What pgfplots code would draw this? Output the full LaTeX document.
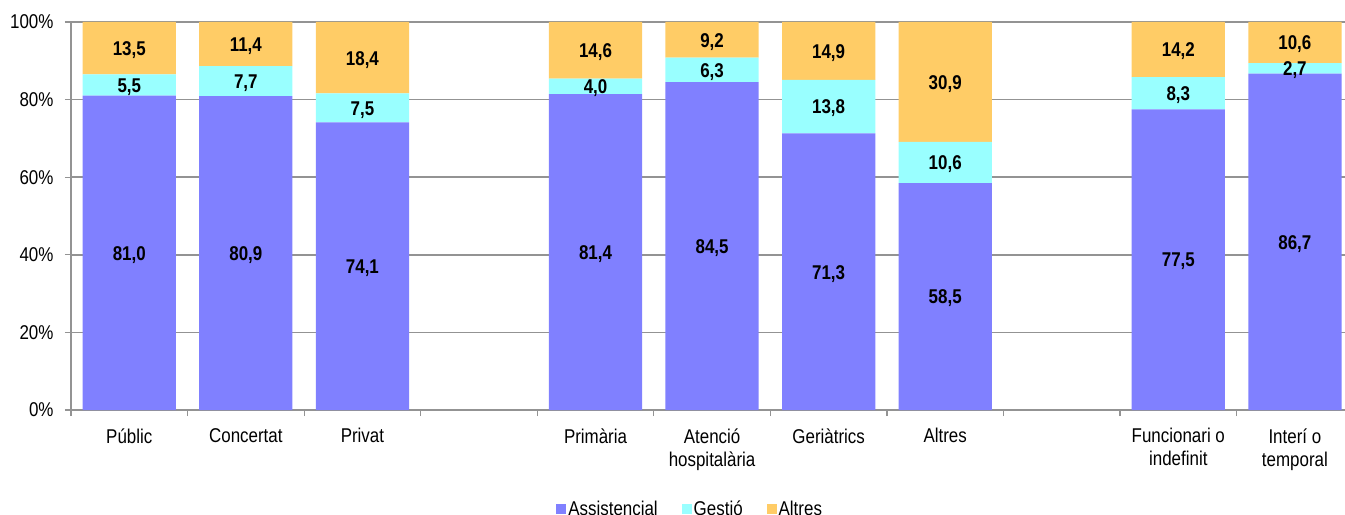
\documentclass[border=0pt]{standalone}
\usepackage{pgfplots}
\pgfplotsset{compat=1.18}
\usepackage{fontspec}
\setmainfont{Liberation Sans}[FakeStretch=0.85]
\definecolor{cAss}{RGB}{128,128,255}
\definecolor{cGes}{RGB}{153,255,255}
\definecolor{cAlt}{RGB}{255,204,102}
\begin{document}
\begin{tikzpicture}
\begin{axis}[
  name=ax,
  scale only axis,
  width=1274bp, height=388bp,
  xmin=-0.5, xmax=10.43,
  ymin=0, ymax=100,
  ybar stacked,
  bar width=0.8,
  axis lines=left,
  axis line style={-, draw=gray!85, line width=1.5bp},
  ymajorgrids,
  major grid style={draw=gray!85, line width=1.5bp},
  ytick={0,20,...,100},
  yticklabel={\pgfmathprintnumber{\tick}\%},
  xtick={-0.5,0.5,...,9.5},
  xticklabels={},
  extra x ticks={0,1,2,4,5,6,7,9,10},
  extra x tick labels={Públic,Concertat,Privat,Primària,{Atenció\\hospitalària},Geriàtrics,Altres,{Funcionari o\\indefinit},{Interí o\\temporal}},
  extra x tick style={major tick length=0pt, xticklabel style={align=center, yshift=-15bp, text depth=0pt}},
  tick align=outside,
  major tick length=6bp,
  x tick style={draw=gray!85, line width=1.2bp},
  y tick style={draw=gray!85, line width=1.2bp},
  yticklabel style={xshift=-8bp},
  tick label style={font=\fontsize{20}{23}\selectfont},
  /pgf/number format/assume math mode=true,
  legend style={at={(0.486,-0.255)}, anchor=center, legend columns=-1, draw=none,
    font=\fontsize{20}{23}\selectfont,
    /tikz/every even column/.append style={column sep=22bp}},
  legend image code/.code={\fill[#1] (0bp,-5bp) rectangle (10bp,5bp);},
  nodes near coords={\pgfmathprintnumber[fixed,fixed zerofill,precision=1,use comma]{\pgfplotspointmeta}},
  every node near coord/.append style={anchor=center, yshift=-2bp, font=\bfseries\fontsize{20}{22}\selectfont},
]
\addplot[fill=cAss, draw=none] coordinates {(0,81.0) (1,80.9) (2,74.1) (4,81.4) (5,84.5) (6,71.3) (7,58.5) (9,77.5) (10,86.7)};
\addplot[fill=cGes, draw=none] coordinates {(0,5.5) (1,7.7) (2,7.5) (4,4.0) (5,6.3) (6,13.8) (7,10.6) (9,8.3) (10,2.7)};
\addplot[fill=cAlt, draw=none] coordinates {(0,13.5) (1,11.4) (2,18.4) (4,14.6) (5,9.2) (6,14.9) (7,30.9) (9,14.2) (10,10.6)};
\legend{Assistencial,Gestió,Altres}
\end{axis}
\pgfresetboundingbox
\path[use as bounding box] ([xshift=-71bp,yshift=-105bp]ax.south west) rectangle ([xshift=1274bp,yshift=410bp]ax.south west);
\end{tikzpicture}
\end{document}
